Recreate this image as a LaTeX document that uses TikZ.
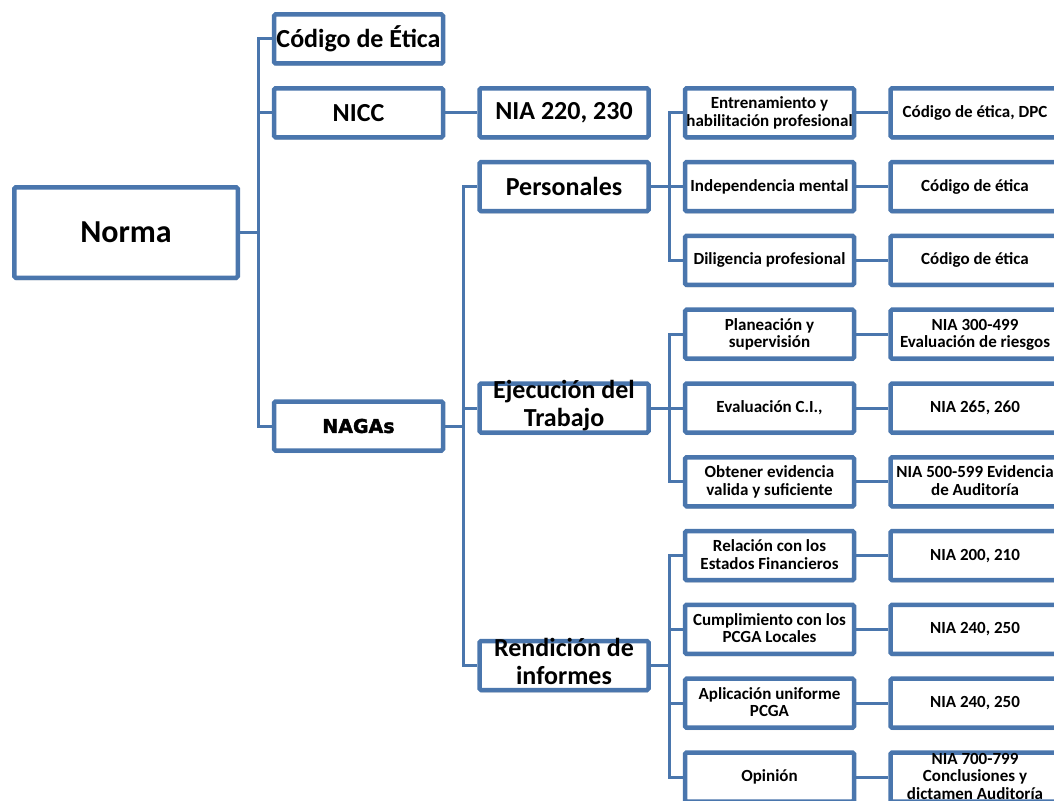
\documentclass[tikz,border=0pt]{standalone}
\usepackage{fontspec}
\setmainfont{Carlito}
\newfontfamily\heavyfont[BoldFeatures={FakeBold=2}]{DejaVu Sans}
\usetikzlibrary{positioning,shadows}
\definecolor{boxblue}{RGB}{74,118,173}
\newcommand{\mlines}[1]{\smash{\raisebox{-5.5pt}{\begin{tabular}[c]{@{}c@{}}#1\end{tabular}}}}

\begin{document}
\begin{tikzpicture}[x=1pt, y=1pt, node distance=73.8pt]
\tikzstyle{block} = [rectangle, draw=boxblue, line width=4.5pt, fill=white,
    rounded corners=1.5pt, minimum width=169pt, minimum height=49pt, inner sep=0pt,
    font=\bfseries\fontsize{17}{17.5}\selectfont,
    drop shadow={shadow xshift=0.5pt, shadow yshift=-2.5pt, opacity=0.3}]
\tikzstyle{mid} = [block, font=\bfseries\fontsize{26}{28}\selectfont]
\tikzstyle{root} = [block, minimum width=223.5pt, minimum height=90.5pt,
    font=\bfseries\fontsize{32}{34}\selectfont]
\tikzstyle{line} = [draw=boxblue, line width=3pt]
\useasboundingbox (0,0) rectangle (1054,-800);

    % Place nodes
    \node [root] (norma) at (126,-232.5) {Norma};
    \node [mid] (etica) at (358.5,-39) {Código de Ética};
    \node [mid, below of=etica] (nicc) {NICC};
    \node [mid, font=\heavyfont\bfseries\fontsize{19}{21}\selectfont] (nagas) at (358.5,-426) {NAGAs};
    \node [mid, right of=nicc, node distance=205.5pt] (nia220) {NIA 220, 230};
    \node [mid, below of=nia220] (pers) {Personales};
    \node [mid, below of=pers, node distance=221.4pt] (ejec) {\mlines{Ejecución del\\Trabajo}};
    \node [mid, below of=ejec, node distance=257.5pt] (rend) {\mlines{Rendición de\\informes}};
    \node [block, right of=nia220, node distance=205.5pt] (entr) {\mlines{Entrenamiento y\\habilitación profesional}};
    \node [block, below of=entr] (indep) {Independencia mental};
    \node [block, below of=indep] (dilig) {Diligencia profesional};
    \node [block, below of=dilig] (plan) {\mlines{Planeación y\\supervisión}};
    \node [block, below of=plan] (evci) {Evaluación C.I.,};
    \node [block, below of=evci] (obt) {\mlines{Obtener evidencia\\valida y suficiente}};
    \node [block, below of=obt] (rel) {\mlines{Relación con los\\Estados Financieros}};
    \node [block, below of=rel] (cump) {\mlines{Cumplimiento con los\\PCGA Locales}};
    \node [block, below of=cump] (apl) {\mlines{Aplicación uniforme\\PCGA}};
    \node [block, below of=apl] (opin) {Opinión};
    \node [block, right of=entr, node distance=205.5pt] (dpc) {Código de ética, DPC};
    \node [block, right of=indep, node distance=205.5pt] (cod1) {Código de ética};
    \node [block, right of=dilig, node distance=205.5pt] (cod2) {Código de ética};
    \node [block, right of=plan, node distance=205.5pt] (nia300) {\mlines{NIA 300-499\\Evaluación de riesgos}};
    \node [block, right of=evci, node distance=205.5pt] (nia265) {NIA 265, 260};
    \node [block, right of=obt, node distance=205.5pt] (nia500) {\mlines{NIA 500-599 Evidencia\\de Auditoría}};
    \node [block, right of=rel, node distance=205.5pt] (nia200) {NIA 200, 210};
    \node [block, right of=cump, node distance=205.5pt] (nia240a) {NIA 240, 250};
    \node [block, right of=apl, node distance=205.5pt] (nia240b) {NIA 240, 250};
    \node [block, right of=opin, node distance=205.5pt] (nia700) {\mlines{NIA 700-799\\Conclusiones y\\dictamen Auditoría}};
    % Draw edges
    \path [line] (norma.east) -- ++(18.25,0) |- (etica.west);
    \path [line] (norma.east) -- ++(18.25,0) |- (nicc.west);
    \path [line] (norma.east) -- ++(18.25,0) |- (nagas.west);
    \path [line] (nicc) -- (nia220);
    \path [line] (nagas.east) -- ++(18.25,0) |- (pers.west);
    \path [line] (nagas.east) -- ++(18.25,0) |- (ejec.west);
    \path [line] (nagas.east) -- ++(18.25,0) |- (rend.west);
    \path [line] (pers.east) -- ++(18.25,0) |- (entr.west);
    \path [line] (pers.east) -- ++(18.25,0) |- (indep.west);
    \path [line] (pers.east) -- ++(18.25,0) |- (dilig.west);
    \path [line] (ejec.east) -- ++(18.25,0) |- (plan.west);
    \path [line] (ejec.east) -- ++(18.25,0) |- (evci.west);
    \path [line] (ejec.east) -- ++(18.25,0) |- (obt.west);
    \path [line] (rend.east) -- ++(18.25,0) |- (rel.west);
    \path [line] (rend.east) -- ++(18.25,0) |- (cump.west);
    \path [line] (rend.east) -- ++(18.25,0) |- (apl.west);
    \path [line] (rend.east) -- ++(18.25,0) |- (opin.west);
    \path [line] (entr) -- (dpc);
    \path [line] (indep) -- (cod1);
    \path [line] (dilig) -- (cod2);
    \path [line] (plan) -- (nia300);
    \path [line] (evci) -- (nia265);
    \path [line] (obt) -- (nia500);
    \path [line] (rel) -- (nia200);
    \path [line] (cump) -- (nia240a);
    \path [line] (apl) -- (nia240b);
    \path [line] (opin) -- (nia700);
\end{tikzpicture}
\end{document}
